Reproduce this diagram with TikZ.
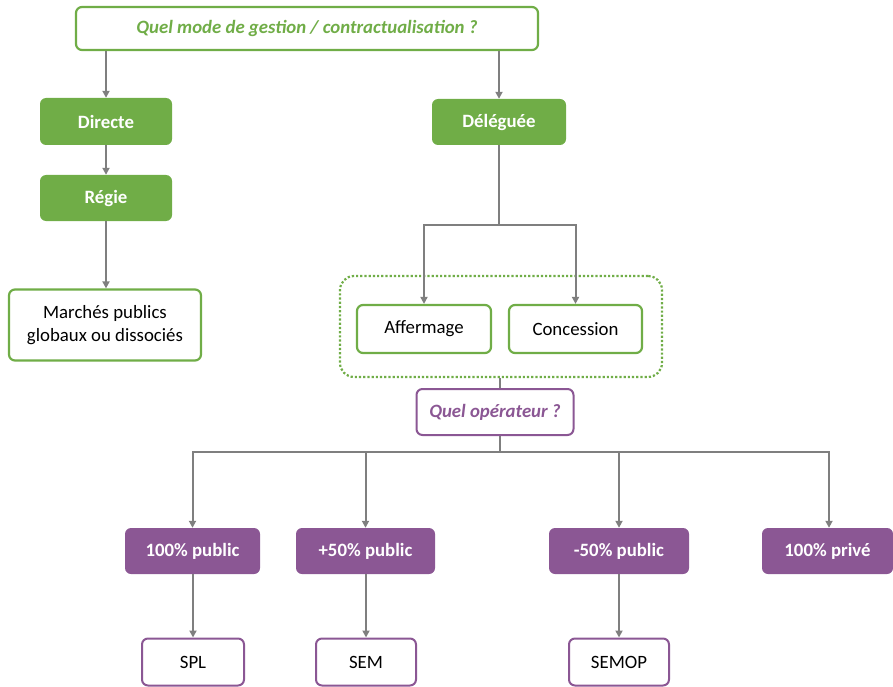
\documentclass[tikz,border=0pt]{standalone}
\usepackage{fontspec}
\setmainfont{Carlito}
\usetikzlibrary{arrows.meta}
\definecolor{gr}{HTML}{70AD47}
\definecolor{pu}{HTML}{8B5794}
\definecolor{ar}{HTML}{7F7F7F}
\newcommand{\fsz}{\fontsize{18.8}{23}\selectfont}
\tikzset{
  gbox/.style={draw=gr,line width=2.2pt,fill=white,rounded corners=6pt,inner sep=0pt,font=\fsz},
  gfill/.style={fill=gr,rounded corners=6pt,inner sep=0pt,text=white,font=\fsz\bfseries},
  pbox/.style={draw=pu,line width=2pt,fill=white,rounded corners=6pt,inner sep=0pt,font=\fsz},
  pfill/.style={fill=pu,rounded corners=6pt,inner sep=0pt,text=white,font=\fsz\bfseries},
  conn/.style={draw=ar,line width=2pt},
  arr/.style={conn,-{Triangle[length=7pt,width=7pt]}}
}
\begin{document}
\begin{tikzpicture}[x=1pt,y=-1pt]
\useasboundingbox (0,0) rectangle (893,687);
% top
\node[gbox,minimum width=462pt,minimum height=43pt,text=gr,font=\fsz\bfseries\itshape] (q1) at (307,28.5) {Quel mode de gestion / contractualisation ?};
\node[gfill,minimum width=132pt,minimum height=47pt] (dir) at (106,121.5) {Directe};
\node[gfill,minimum width=132pt,minimum height=46pt] (reg) at (106,198) {Régie};
\node[gbox,minimum width=192pt,minimum height=71pt,align=center] (mar) at (105,325) {Marchés publics\\globaux ou dissociés};
\node[gfill,minimum width=134pt,minimum height=46pt] (del) at (499,122) {Déléguée};
% container
\node[draw=gr,line width=2.2pt,dotted,rounded corners=14pt,minimum width=322pt,minimum height=101pt] (cont) at (501,326.5) {};
\node[gbox,minimum width=134pt,minimum height=48pt] (aff) at (424,329) {Affermage};
\node[gbox,minimum width=133pt,minimum height=48pt] (con) at (575.5,329) {Concession};
\node[pbox,minimum width=157pt,minimum height=46pt,text=pu,font=\fsz\bfseries\itshape] (q2) at (495,412) {Quel opérateur ?};
% operators
\node[pfill,minimum width=135pt,minimum height=46pt] (p100) at (192.5,551) {100\% public};
\node[pfill,minimum width=139pt,minimum height=46pt] (p50) at (365.5,551) {+50\% public};
\node[pfill,minimum width=140pt,minimum height=46pt] (m50) at (619,551) {-50\% public};
\node[pfill,minimum width=131pt,minimum height=46pt] (priv) at (827.5,551) {100\% privé};
\node[pbox,minimum width=102pt,minimum height=47pt] (spl) at (193,662) {SPL};
\node[pbox,minimum width=100pt,minimum height=47pt] (sem) at (366,662) {SEM};
\node[pbox,minimum width=100pt,minimum height=47pt] (semop) at (619,662) {SEMOP};
% connectors
\draw[arr] (q1.south -| dir.north) -- (dir.north);
\draw[arr] (q1.south -| del.north) -- (del.north);
\draw[arr] (dir) -- (reg);
\draw[arr] (reg.south) -- (reg.south |- mar.north);
\coordinate (j1) at (499,225);
\draw[conn] (del.south) -- (j1);
\draw[arr] (j1) -| (aff.north);
\draw[arr] (j1) -| (con.north);
\draw[conn] (cont.south -| 500,0) -- (q2.north -| 500,0);
\coordinate (j2) at (500,452);
\draw[conn] (q2.south -| j2) -- (j2);
\draw[arr] (j2) -| (p100.north);
\draw[arr] (j2) -| (p50.north);
\draw[arr] (j2) -| (m50.north);
\draw[arr] (j2) -| ([xshift=1.5pt]priv.north);
\draw[arr] (p100.south -| spl.north) -- (spl.north);
\draw[arr] (p50.south -| sem.north) -- (sem.north);
\draw[arr] (m50.south) -- (semop.north);
\end{tikzpicture}
\end{document}
